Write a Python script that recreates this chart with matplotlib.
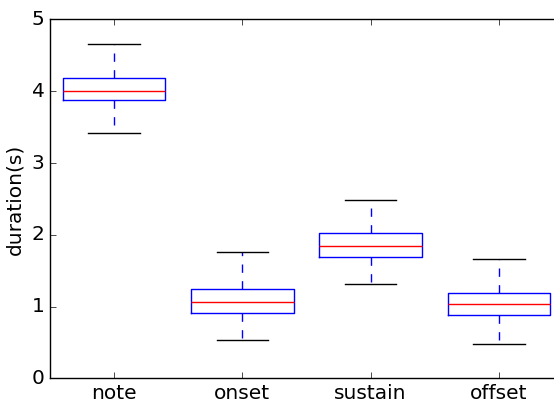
import matplotlib
matplotlib.use('Agg')
import matplotlib.pyplot as plt

plt.style.use('classic')

labels = ['note', 'onset', 'sustain', 'offset']
whislo = [3.42, 0.53, 1.31, 0.48]
q1 = [3.88, 0.91, 1.69, 0.88]
med = [4.01, 1.07, 1.84, 1.04]
q3 = [4.19, 1.24, 2.03, 1.19]
whishi = [4.66, 1.76, 2.49, 1.66]

stats = []
for i in range(len(labels)):
    stats.append({'label': labels[i], 'whislo': whislo[i], 'q1': q1[i],
                  'med': med[i], 'q3': q3[i], 'whishi': whishi[i], 'fliers': []})

fig = plt.figure(figsize=(5.54, 3.99), dpi=100, facecolor='white')
ax = fig.add_axes([50 / 554, 1 - 378.3 / 399, 513 / 554, 358.8 / 399])

ax.bxp(stats, widths=0.8, showfliers=False,
       boxprops=dict(color='blue'),
       medianprops=dict(color='red'),
       whiskerprops=dict(color='blue', linestyle='--'),
       capprops=dict(color='black'))

ax.set_xlim(0.5, 4.5)
ax.set_ylim(0, 5)
ax.set_ylabel('duration(s)', fontsize=14.5)
ax.tick_params(labelsize=14.5)

fig.savefig('out.png', dpi=100, facecolor='white')
